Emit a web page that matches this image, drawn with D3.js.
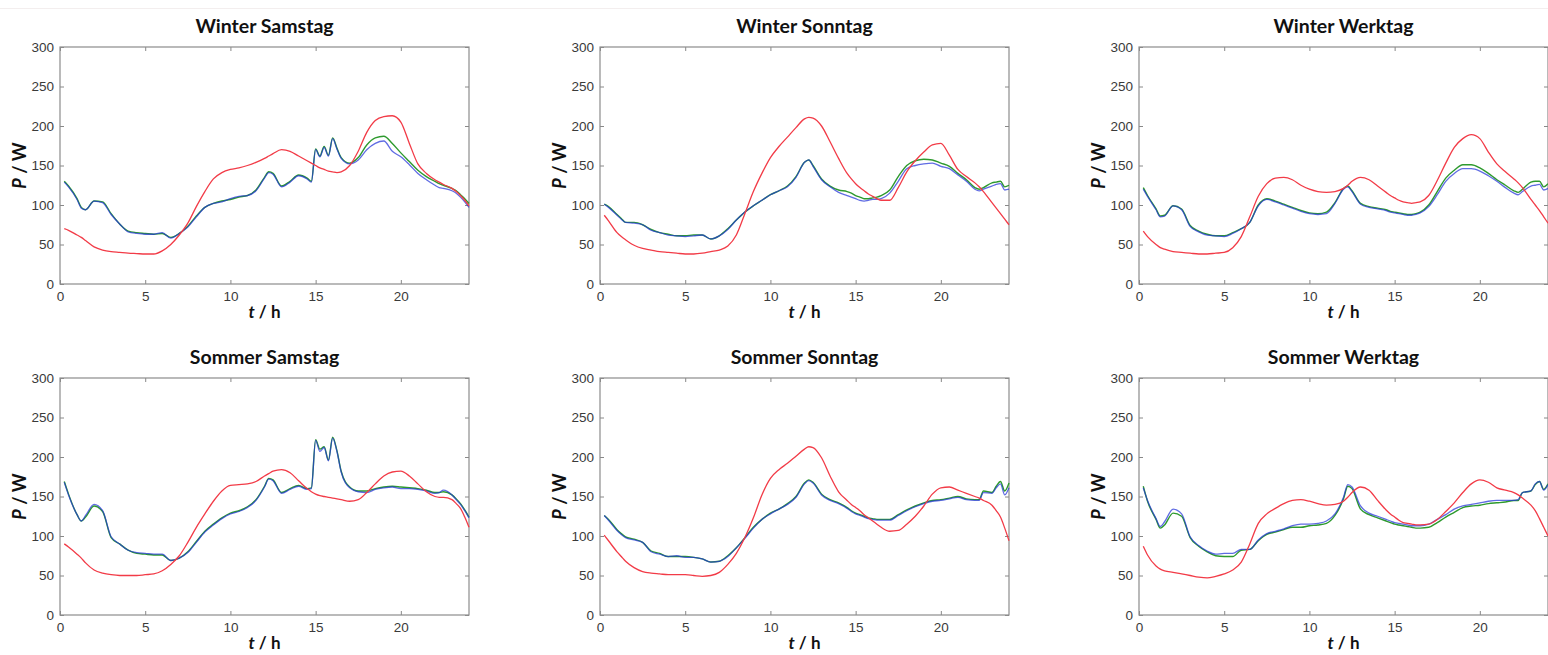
<!DOCTYPE html>
<html>
<head>
<meta charset="utf-8">
<script src="https://cdn.jsdelivr.net/npm/d3@7"></script>
<style>
  body { margin: 0; background: #fff; }
  svg { display: block; font-family: Lato, "Open Sans", sans-serif; }
  .tick text { fill: #3a3a3a; font-size: 13.5px; }
</style>
</head>
<body>
<div id="chart"></div>
<script>
// shared time grid (hours)
const hours = [0.25, 0.5, 1, 1.25, 1.5, 2, 2.5, 3, 3.5, 4, 4.5, 5, 5.5, 6, 6.5, 7, 7.5, 8, 8.5, 9, 9.5, 10, 10.5, 11, 11.5, 12, 12.25, 12.5, 13, 13.5, 14, 14.5, 14.75, 15, 15.25, 15.5, 15.75, 16, 16.25, 16.5, 17, 17.5, 18, 18.5, 19, 19.5, 20, 20.5, 21, 21.5, 22, 22.25, 22.5, 23, 23.25, 23.5, 23.75, 24];

const xTicks = [0, 5, 10, 15, 20];
const yTicks = [0, 50, 100, 150, 200, 250, 300];
const titles = ["Winter Samstag", "Winter Sonntag", "Winter Werktag", "Sommer Samstag", "Sommer Sonntag", "Sommer Werktag"];

// Winter Samstag
const wSaRed = [70, 68, 62, 59, 55, 47, 43, 41, 40, 39, 38.5, 38, 38, 42, 50, 62, 77, 98, 117, 133, 141, 145, 147, 150, 154, 159, 162, 165, 170, 168, 162, 156, 153, 150, 147, 145, 143, 142, 141, 142, 150, 168, 192, 207, 212, 213, 205, 178, 152, 140, 132, 129, 126, 121, 117, 112, 106, 99];
const wSaGreen = [130, 124, 108, 97, 94, 105, 104, 89, 76, 67, 65, 64, 63, 64, 59, 64, 73, 86, 97, 102, 105, 107, 110, 112, 119, 135, 142, 140, 124, 130, 138, 134, 130, 171, 162, 174, 163, 185, 172, 160, 153, 160, 176, 185, 187, 178, 166, 155, 144, 136, 130, 127, 125, 121, 118, 113, 108, 102];
const wSaBlue = [129, 123, 107, 96, 94, 105, 103, 88, 76, 66, 64, 63, 63, 65, 58, 64, 72, 85, 97, 102, 104, 108, 111, 112, 118, 134, 141, 139, 123, 129, 137, 133, 129, 170, 161, 173, 162, 184, 171, 159, 152, 157, 170, 178, 181, 168, 161, 151, 140, 132, 125, 122, 121, 118, 115, 110, 104, 97];

// Winter Sonntag
const wSoRed = [87, 80, 65, 60, 56, 49, 45, 43, 41, 40, 39, 38, 38, 39, 41, 43, 48, 62, 89, 117, 140, 160, 174, 186, 198, 209, 211, 210, 200, 180, 159, 140, 133, 127, 122, 118, 114, 111, 108, 106, 106, 122, 142, 156, 167, 176, 178, 163, 145, 136, 128, 123, 117, 103, 96, 89, 82, 75];
const wSoGreen = [101, 98, 88, 83, 78, 78, 75, 69, 65, 63, 61, 61, 62, 62, 57, 61, 70, 81, 91, 99, 106, 113, 118, 124, 136, 154, 157, 150, 133, 124, 119, 117, 115, 112, 110, 108, 108, 109, 110, 112, 119, 136, 150, 156, 158, 157, 153, 149, 140, 132, 122, 120, 122, 128, 129, 130, 123, 125];
const wSoBlue = [101, 97, 87, 82, 78, 77, 75, 68, 65, 62, 61, 60, 61, 62, 57, 61, 69, 81, 91, 99, 106, 113, 118, 123, 135, 154, 157, 149, 132, 123, 116, 112, 110, 108, 106, 105, 106, 107, 107, 108, 115, 130, 146, 150, 152, 153, 149, 146, 138, 130, 120, 118, 120, 124, 126, 127, 119, 120];

// Winter Werktag
const wWeRed = [67, 60, 50, 46, 44, 41, 40, 39, 38, 38, 39, 40, 46, 60, 85, 111, 127, 134, 135, 132, 125, 120, 117, 116, 117, 121, 125, 130, 135, 132, 124, 116, 112, 109, 106, 104, 103, 102, 103, 104, 112, 131, 153, 173, 184, 189, 184, 167, 152, 142, 133, 128, 122, 107, 100, 93, 85, 77];
const wWeGreen = [122, 112, 95, 86, 87, 99, 95, 74, 67, 63, 61, 61, 65, 70, 78, 100, 108, 105, 101, 97, 93, 90, 89, 91, 103, 121, 124, 118, 102, 98, 96, 94, 92, 91, 90, 89, 88, 88, 89, 91, 100, 117, 134, 144, 151, 151, 147, 140, 132, 125, 118, 116, 120, 129, 130, 130, 123, 127];
const wWeBlue = [120, 111, 94, 85, 86, 99, 94, 73, 66, 62, 61, 60, 64, 70, 78, 99, 107, 104, 100, 96, 92, 89, 88, 89, 102, 120, 123, 117, 101, 97, 95, 93, 91, 90, 89, 88, 87, 87, 88, 90, 98, 113, 130, 140, 146, 146, 143, 137, 130, 122, 115, 113, 117, 124, 125, 126, 119, 121];

// Sommer Samstag
const sSaRed = [90, 86, 77, 72, 66, 57, 53, 51, 50, 50, 50, 51, 52, 56, 64, 75, 92, 111, 128, 144, 157, 164, 165, 166, 169, 176, 179, 182, 184, 180, 170, 160, 156, 153, 151, 150, 149, 148, 147, 146, 144, 146, 155, 166, 176, 181, 182, 176, 166, 156, 150, 149, 149, 146, 141, 135, 124, 111];
const sSaGreen = [169, 153, 127, 119, 124, 138, 131, 98, 90, 82, 78, 77, 76, 76, 69, 72, 80, 93, 106, 115, 123, 129, 132, 137, 146, 163, 173, 171, 155, 160, 164, 160, 161, 222, 210, 213, 196, 225, 208, 182, 162, 157, 157, 160, 162, 163, 162, 161, 160, 158, 155, 155, 156, 152, 147, 141, 133, 124];
const sSaBlue = [168, 152, 127, 119, 126, 140, 132, 99, 90, 82, 79, 78, 77, 77, 69, 72, 79, 92, 105, 114, 122, 128, 131, 136, 145, 162, 172, 170, 154, 159, 163, 159, 160, 221, 207, 212, 195, 224, 207, 181, 161, 156, 155, 159, 161, 162, 160, 160, 159, 157, 154, 155, 158, 152, 146, 140, 132, 123];

// Sommer Sonntag
const sSoRed = [101, 94, 80, 74, 68, 60, 55, 53, 52, 51, 51, 51, 50, 49, 50, 54, 64, 78, 98, 123, 152, 173, 184, 192, 201, 210, 213, 212, 199, 176, 156, 145, 140, 136, 132, 127, 123, 119, 115, 111, 106, 107, 115, 125, 138, 153, 161, 162, 158, 154, 150, 148, 145, 139, 132, 124, 110, 94];
const sSoGreen = [126, 121, 108, 103, 99, 96, 92, 81, 78, 74, 74, 74, 73, 71, 67, 68, 75, 85, 98, 111, 121, 129, 134, 141, 150, 167, 171, 168, 153, 146, 142, 136, 132, 129, 127, 125, 123, 122, 121, 121, 121, 127, 133, 138, 142, 145, 146, 148, 150, 147, 146, 146, 157, 155, 163, 169, 157, 167];
const sSoBlue = [126, 120, 107, 102, 98, 95, 92, 80, 77, 74, 75, 73, 73, 71, 67, 68, 74, 85, 97, 110, 121, 128, 134, 140, 149, 166, 170, 167, 152, 145, 141, 135, 131, 128, 126, 124, 122, 121, 120, 120, 120, 126, 132, 137, 141, 144, 145, 147, 149, 146, 145, 145, 155, 154, 161, 166, 152, 161];

// Sommer Werktag
const sWeRed = [87, 76, 62, 58, 56, 54, 52, 50, 48, 47, 49, 52, 57, 67, 90, 116, 128, 135, 141, 145, 146, 144, 141, 139, 140, 144, 149, 155, 162, 158, 145, 133, 128, 124, 120, 117, 116, 115, 114, 114, 115, 121, 131, 142, 155, 166, 171, 168, 161, 158, 155, 152, 148, 139, 132, 122, 111, 100];
const sWeGreen = [163, 144, 121, 110, 114, 129, 125, 98, 87, 80, 75, 74, 74, 82, 83, 94, 102, 105, 108, 111, 111, 113, 114, 116, 126, 147, 163, 160, 134, 127, 123, 119, 117, 115, 114, 113, 112, 111, 110, 110, 111, 117, 124, 130, 136, 138, 139, 141, 142, 143, 145, 145, 155, 157, 165, 169, 159, 166];
const sWeBlue = [161, 145, 122, 112, 118, 134, 128, 99, 88, 81, 77, 78, 78, 83, 83, 95, 103, 106, 109, 113, 115, 115, 116, 119, 128, 149, 165, 162, 138, 129, 125, 121, 119, 117, 116, 115, 114, 113, 113, 113, 115, 121, 127, 134, 138, 140, 142, 144, 145, 145, 145, 146, 155, 157, 166, 169, 158, 165];

const panels = [
  [wSaRed, wSaGreen, wSaBlue],
  [wSoRed, wSoGreen, wSoBlue],
  [wWeRed, wWeGreen, wWeBlue],
  [sSaRed, sSaGreen, sSaBlue],
  [sSoRed, sSoGreen, sSoBlue],
  [sWeRed, sWeGreen, sWeBlue]
];

const W = 1548, H = 655;
const plotW = 409, plotH = 237;
const lefts = [60, 600, 1139];
const tops = [47, 378];

const svg = d3.select("#chart")
  .append("svg")
  .attr("width", W)
  .attr("height", H);

// faint page edge line at top
svg.append("line")
  .attr("x1", 0).attr("x2", W)
  .attr("y1", 8.5).attr("y2", 8.5)
  .attr("stroke", "#f3eeee");

const x = d3.scaleLinear().domain([0, 24]).range([0, plotW]);
const y = d3.scaleLinear().domain([0, 300]).range([plotH, 0]);

const line = d3.line()
  .x((d, i) => x(hours[i]))
  .y(d => y(d))
  .curve(d3.curveMonotoneX);

// green drawn first, blue on top, red last
const styles = [
  { idx: 1, color: "#2e9a2e", width: 1.4, opacity: 1 },
  { idx: 2, color: "#2233d8", width: 1.3, opacity: 0.72 },
  { idx: 0, color: "#f23b47", width: 1.3, opacity: 1 }
];

panels.forEach(function(series, p) {
  const col = p % 3, row = Math.floor(p / 3);
  const g = svg.append("g")
    .attr("transform", "translate(" + lefts[col] + "," + tops[row] + ")");

  // bottom axis
  g.append("g")
    .attr("transform", "translate(0," + plotH + ")")
    .call(d3.axisBottom(x).tickValues(xTicks).tickSizeInner(-4).tickSizeOuter(0).tickPadding(7))
    .call(a => a.select(".domain").remove());
  // left axis
  g.append("g")
    .call(d3.axisLeft(y).tickValues(yTicks).tickSizeInner(-4).tickSizeOuter(0).tickPadding(6))
    .call(a => a.select(".domain").remove());
  // top and right ticks
  g.append("g")
    .call(d3.axisTop(x).tickValues(xTicks).tickSizeInner(-4).tickSizeOuter(0).tickFormat(""))
    .call(a => a.select(".domain").remove());
  g.append("g")
    .attr("transform", "translate(" + plotW + ",0)")
    .call(d3.axisRight(y).tickValues(yTicks).tickSizeInner(-4).tickSizeOuter(0).tickFormat(""))
    .call(a => a.select(".domain").remove());

  g.selectAll(".tick line").attr("stroke", "#888");

  // frame
  g.append("rect")
    .attr("width", plotW)
    .attr("height", plotH)
    .attr("fill", "none")
    .attr("stroke", "#8c8c8c")
    .attr("stroke-width", 1.2);

  styles.forEach(function(s) {
    g.append("path")
      .datum(series[s.idx])
      .attr("d", line)
      .attr("fill", "none")
      .attr("stroke", s.color)
      .attr("stroke-width", s.width)
      .attr("stroke-opacity", s.opacity)
      .attr("stroke-linejoin", "round");
  });

  // title
  g.append("text")
    .attr("x", plotW / 2)
    .attr("y", -14)
    .attr("text-anchor", "middle")
    .style("font-size", "19.5px")
    .style("font-weight", "bold")
    .attr("fill", "#111")
    .text(titles[p]);

  // x label
  const xl = g.append("text")
    .attr("x", plotW / 2)
    .attr("y", plotH + 34)
    .attr("text-anchor", "middle")
    .style("font-size", "17px")
    .style("font-weight", "bold")
    .attr("fill", "#111");
  xl.append("tspan").style("font-style", "italic").text("t");
  xl.append("tspan").text(" / h");

  // y label
  const yl = g.append("text")
    .attr("transform", "translate(-34," + (plotH / 2) + ") rotate(-90)")
    .attr("text-anchor", "middle")
    .style("font-size", "18px")
    .style("font-weight", "bold")
    .attr("fill", "#111");
  yl.append("tspan").style("font-style", "italic").text("P");
  yl.append("tspan").text(" / W");
});
</script>
</body>
</html>
